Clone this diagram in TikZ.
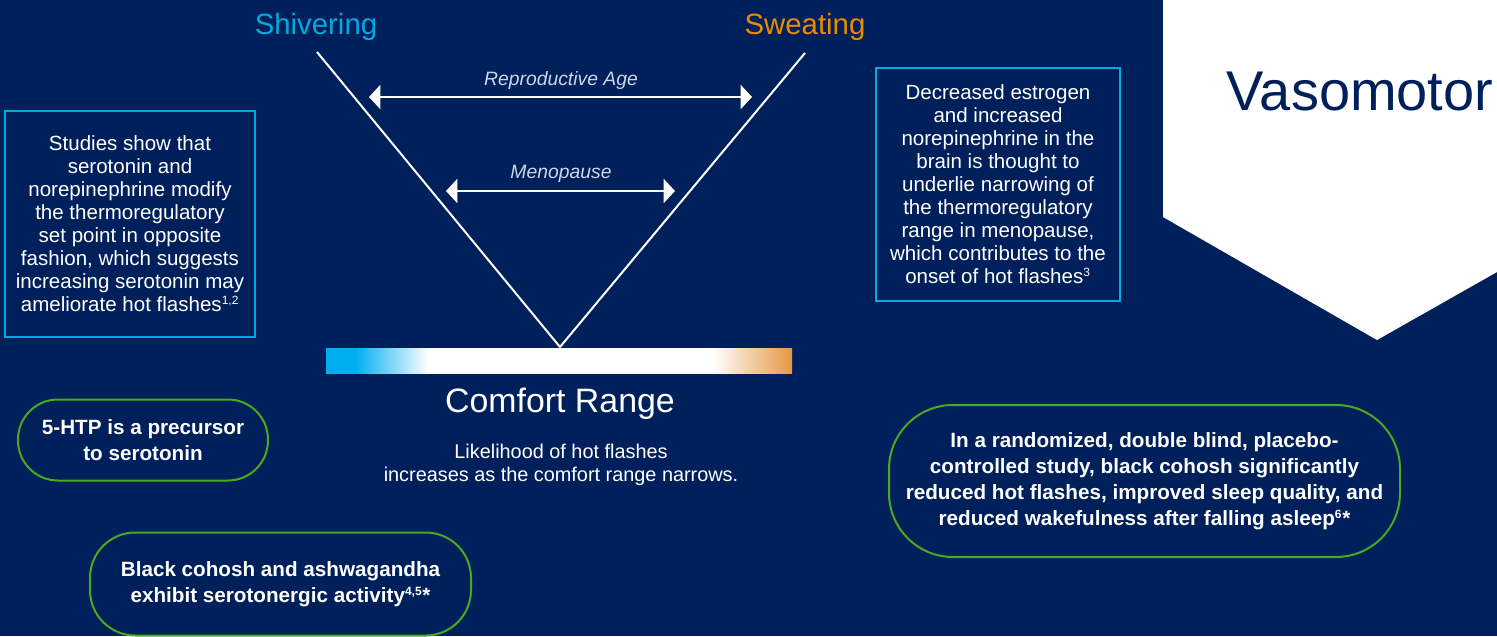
\documentclass[tikz,border=0pt]{standalone}
\usepackage{fontspec}
\setmainfont{Liberation Sans}
\usetikzlibrary{arrows.meta}

\definecolor{navy}{RGB}{0,32,91}
\definecolor{coolblue}{RGB}{0,169,224}
\definecolor{warmorange}{RGB}{237,139,0}
\definecolor{leafgreen}{RGB}{72,170,30}
\definecolor{paleblue}{RGB}{205,213,232}
\definecolor{barblue}{RGB}{0,174,239}
\definecolor{barorange}{RGB}{228,152,68}

\pgfdeclarehorizontalshading{comfortbar}{100bp}{color(0bp)=(barblue); color(25bp)=(barblue);
  color(28.1bp)=(barblue); color(36bp)=(white); color(66.5bp)=(white); color(75bp)=(barorange);
  color(100bp)=(barorange)}

\tikzset{
  infobox/.style={draw=coolblue, line width=1.5pt, align=center, text=white, inner sep=0pt,
    font=\fontsize{15.4}{17.25}\selectfont},
  pill/.style={draw=leafgreen, line width=1.5pt, align=center, text=white, inner sep=0pt,
    font=\fontsize{15.5}{19.5}\bfseries\selectfont},
  rangearrow/.style={draw=white, line width=1.5pt,
    {Triangle[length=8.5pt,width=18pt]}-{Triangle[length=8.5pt,width=18pt]}},
  rangelabel/.style={text=paleblue, font=\fontsize{14.5}{16}\itshape\selectfont},
  vline/.style={draw=white, line width=1.5pt}
}

\begin{document}
\begin{tikzpicture}[x=0.75pt, y=-0.75pt]
  \useasboundingbox (0,0) rectangle (1497,636);
  \fill[navy] (0,0) rectangle (1497,636);

  % title tab
  \fill[white] (1163,0) -- (1497,0) -- (1497,272) -- (1377,340) -- (1163,217) -- cycle;
  \node[text=navy, font=\fontsize{42}{46}\selectfont] (title) at (1360,92) {Vasomotor};

  % the V
  \node[text=coolblue, font=\fontsize{22}{26}\selectfont] (shiv) at (316,27) {Shivering};
  \node[text=warmorange, font=\fontsize{22}{26}\selectfont] (sweat) at (805,27) {Sweating};
  \coordinate (vl) at (317,52);
  \coordinate (vr) at (805,53);
  \coordinate (vb) at (560,347);
  \draw[vline] (vl) -- (vb) -- (vr);

  \coordinate (repl) at (369,97);
  \coordinate (repr) at (752,97);
  \draw[rangearrow] (repl) -- (repr);
  \node[rangelabel] (rep) at (561,80) {Reproductive Age};

  \coordinate (menl) at (446,191);
  \coordinate (menr) at (675,191);
  \draw[rangearrow] (menl) -- (menr);
  \node[rangelabel] (men) at (561,174) {Menopause};

  % comfort bar
  \shade[shading=comfortbar] (326,348) rectangle (792,373);

  \node[text=white, font=\fontsize{25.4}{28}\selectfont] (comfort) at (560,404) {Comfort Range};
  \node[text=white, align=center, font=\fontsize{14.9}{17.25}\selectfont] (likely) at (561,465)
    {Likelihood of hot flashes\\increases as the comfort range narrows.};

  % boxes
  \node[infobox, minimum width=187.5pt, minimum height=169.5pt] (sero) at (130,224)
    {Studies show that\\serotonin and\\norepinephrine modify\\the thermoregulatory\\set point in opposite\\fashion, which suggests\\increasing serotonin may\\ameliorate hot flashes\textsuperscript{\fontsize{9}{9}\selectfont1,2}};
  \node[infobox, minimum width=183pt, minimum height=174.75pt] (estro) at (998,184)
    {Decreased estrogen\\and increased\\norepinephrine in the\\brain is thought to\\underlie narrowing of\\the thermoregulatory\\range in menopause,\\which contributes to the\\onset of hot flashes\textsuperscript{\fontsize{9}{9}\selectfont3}};

  \node[pill, rounded corners=30pt, minimum width=187.5pt, minimum height=60.75pt] (htp) at (143,440)
    {5-HTP is a precursor\\to serotonin};
  \node[pill, rounded corners=34pt, minimum width=285.75pt, minimum height=77.25pt] (cohosh) at (280.5,584)
    {Black cohosh and ashwagandha\\exhibit serotonergic activity\textsuperscript{\fontsize{9}{9}\selectfont4,5}*};
  \node[pill, rounded corners=48pt, minimum width=383.25pt, minimum height=114pt] (study) at (1144.5,481)
    {In a randomized, double blind, placebo-\\controlled study, black cohosh significantly\\reduced hot flashes, improved sleep quality, and\\reduced wakefulness after falling asleep\textsuperscript{\fontsize{9}{9}\selectfont6}*};
\end{tikzpicture}
\end{document}
